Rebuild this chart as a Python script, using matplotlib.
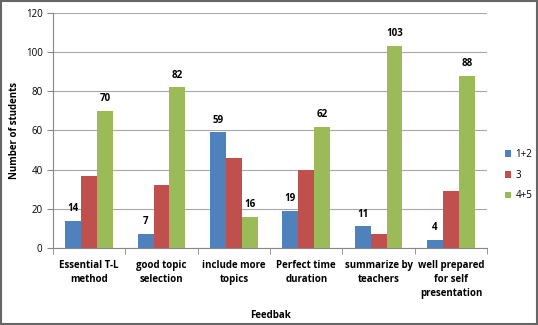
import numpy as np
import matplotlib.pyplot as plt
from matplotlib.patches import Rectangle

categories = ['Essential T-L\nmethod', 'good topic\nselection', 'include more\ntopics',
              'Perfect time\nduration', 'summarize by\nteachers', 'well prepared\nfor self\npresentation']
s12 = [14, 7, 59, 19, 11, 4]
s3 = [37, 32, 46, 40, 7, 29]
s45 = [70, 82, 16, 62, 103, 88]
series_names = ['1+2', '3', '4+5']
colors = ['#4F81BD', '#C0504D', '#9BBB59']

plt.rcParams['font.family'] = ['Open Sans', 'DejaVu Sans']

fig = plt.figure(figsize=(5.38, 3.25), dpi=100)
ax = fig.add_axes([0.0985, 0.237, 0.807, 0.723])

x = np.arange(len(categories))
w = 0.22
data = [s12, s3, s45]
for i, (vals, name, c) in enumerate(zip(data, series_names, colors)):
    bars = ax.bar(x + (i - 1) * w, vals, w, color=c, label=name, zorder=3)
    if i != 1:
        for b, v in zip(bars, vals):
            ax.text(b.get_x() + b.get_width() / 2, v + 3.5, str(v), ha='center', va='bottom',
                    fontsize=7, fontweight='bold')

ax.set_xlim(-0.5, len(categories) - 0.5)
ax.set_ylim(0, 120)
ax.set_yticks(range(0, 121, 20))
ax.yaxis.grid(True, color='#A8A8A8', linewidth=0.8, zorder=0)
ax.set_xticks(x)
ax.set_xticklabels(categories, fontsize=7, fontweight='bold', linespacing=1.35)
ax.set_xticks(np.arange(-0.5, len(categories)), minor=True)
ax.tick_params(axis='x', which='major', length=0, pad=9)
ax.tick_params(axis='x', which='minor', length=4, color='#888888', direction='out')
ax.tick_params(axis='y', labelsize=7, length=4, color='#888888', direction='out')
for s in ['top', 'right']:
    ax.spines[s].set_visible(False)
for s in ['left', 'bottom']:
    ax.spines[s].set_color('#888888')

ax.set_ylabel('Number of students', fontsize=7, fontweight='bold')
ax.set_xlabel('Feedbak', fontsize=7, fontweight='bold', labelpad=8)

ax.legend(loc='center left', bbox_to_anchor=(1.02, 0.31), frameon=False, fontsize=7,
          handlelength=0.7, handleheight=0.7, handletextpad=0.4, labelspacing=1.0)

fig.patches.append(Rectangle((0.002, 0.003), 0.996, 0.994, transform=fig.transFigure,
                             fill=False, edgecolor='#666666', linewidth=1.5))

fig.savefig('out.png', dpi=100)
